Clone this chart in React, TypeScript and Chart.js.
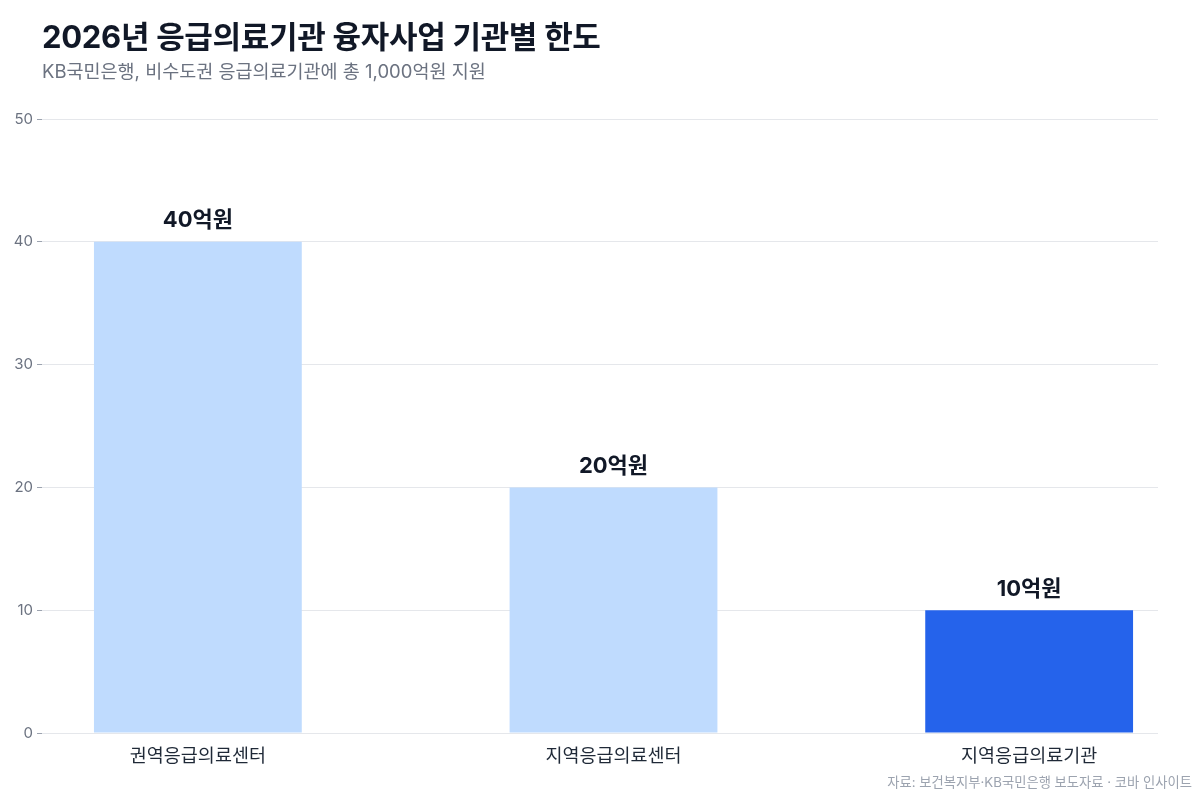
import { useEffect, useRef } from 'react';
import { Chart, ChartConfiguration, registerables } from 'chart.js';

Chart.register(...registerables);

const FONT = 'Inter, "Noto Sans CJK KR", "Noto Sans", sans-serif';

const categories = ['권역응급의료센터', '지역응급의료센터', '지역응급의료기관'];
const limits = [40, 20, 10];
const valueLabels = ['40억원', '20억원', '10억원'];
const barColors = ['#bfdbfe', '#bfdbfe', '#2563eb'];
const yTicks = [0, 10, 20, 30, 40, 50];

const valueLabelPlugin = {
  id: 'valueLabels',
  afterDatasetsDraw(chart: Chart) {
    const ctx = chart.ctx;
    const meta = chart.getDatasetMeta(0);
    ctx.save();
    ctx.font = `700 22px ${FONT}`;
    ctx.fillStyle = '#111827';
    ctx.textAlign = 'center';
    ctx.textBaseline = 'bottom';
    meta.data.forEach((bar: any, i: number) => {
      ctx.fillText(valueLabels[i], bar.x, bar.y - 10);
    });
    ctx.restore();
  },
};

export default function App() {
  const canvasRef = useRef<HTMLCanvasElement>(null);
  const chartRef = useRef<Chart | null>(null);

  useEffect(() => {
    if (!canvasRef.current) return;
    if (chartRef.current) chartRef.current.destroy();

    const config: ChartConfiguration = {
      type: 'bar',
      data: {
        datasets: [{
          data: limits.map((v, i) => ({ x: i, y: v })),
          backgroundColor: barColors,
          borderWidth: 0,
          barPercentage: 0.5,
          categoryPercentage: 1,
        }],
      },
      options: {
        responsive: false,
        maintainAspectRatio: false,
        animation: false,
        layout: { padding: { top: 119, right: 42, left: 0, bottom: 0 } },
        plugins: {
          legend: { display: false },
          tooltip: { enabled: false },
        },
        scales: {
          x: {
            type: 'linear',
            offset: false,
            min: -0.375,
            max: 2.31,
            afterBuildTicks: (scale: any) => {
              scale.ticks = categories.map((_, i) => ({ value: i }));
            },
            afterFit: (scale: any) => { scale.height = 67; },
            grid: { display: false },
            border: { display: false },
            ticks: {
              autoSkip: false,
              maxRotation: 0,
              padding: 4,
              color: '#1f2937',
              font: { family: FONT, size: 18.5 },
              callback: (v: any) => categories[v as number] ?? '',
            },
          },
          y: {
            min: 0,
            max: 50,
            afterBuildTicks: (scale: any) => {
              scale.ticks = yTicks.map((v) => ({ value: v }));
            },
            afterFit: (scale: any) => { scale.width = 42; },
            grid: {
              color: '#e5e7eb',
              tickColor: '#9ca3af',
              tickLength: 5,
              lineWidth: 1,
            },
            border: { display: false },
            ticks: {
              padding: 4,
              color: '#6b7280',
              font: { family: FONT, size: 15 },
            },
          },
        },
      },
      plugins: [valueLabelPlugin],
    };

    chartRef.current = new Chart(canvasRef.current, config);
    return () => {
      if (chartRef.current) chartRef.current.destroy();
      chartRef.current = null;
    };
  }, []);

  return (
    <div style={{ position: 'absolute', top: 0, left: 0, width: 1200, height: 800, background: '#fff', fontFamily: FONT }}>
      <canvas ref={canvasRef} width={1200} height={800} style={{ position: 'absolute', top: 0, left: 0 }} />
      <div style={{ position: 'absolute', left: 42, top: 12, fontSize: 31, fontWeight: 700, color: '#111827', letterSpacing: '-0.3px' }}>
        2026년 응급의료기관 융자사업 기관별 한도
      </div>
      <div style={{ position: 'absolute', left: 42, top: 57, fontSize: 18.5, color: '#6b7280' }}>
        KB국민은행, 비수도권 응급의료기관에 총 1,000억원 지원
      </div>
      <div style={{ position: 'absolute', right: 8, top: 772, fontSize: 13.3, color: '#9ca3af' }}>
        자료: 보건복지부·KB국민은행 보도자료 · 코바 인사이트
      </div>
    </div>
  );
}
